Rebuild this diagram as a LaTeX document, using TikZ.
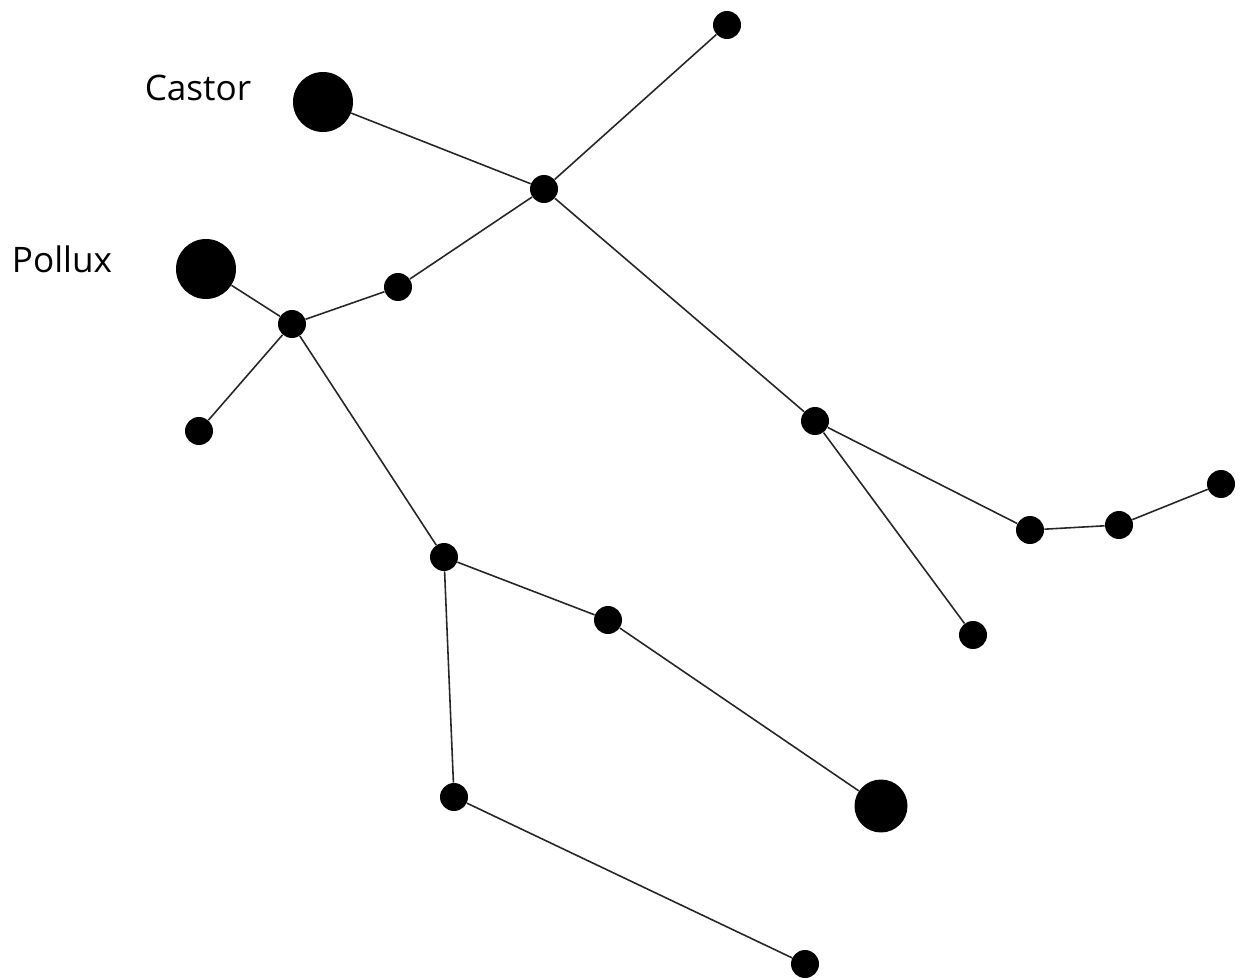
\documentclass[tikz,border=0pt]{standalone}
\usepackage{fontspec}
\setmainfont{Open Sans}
\usepackage{tikz}
\usetikzlibrary{positioning}
\tikzstyle{stardot}=[circle, fill=black, inner sep=0pt, minimum size=0.56cm]
\tikzstyle{brightstar}=[circle, fill=black, inner sep=0pt, minimum size=1.2cm]
\tikzstyle{link}=[line width=0.9pt, color=black!85]

\begin{document}
\begin{tikzpicture}[x=0.02cm, y=-0.02cm]
  \useasboundingbox (0,0) rectangle (1242,980);
  % bright stars
  \node[brightstar] (castor) at (323,102) {};
  \node[brightstar] (pollux) at (206,269) {};
  \node[brightstar, minimum size=1.06cm] (alhena) at (881,806) {};
  \node[font=\fontsize{20}{24}\selectfont] (castorlbl) at (198,88) {Castor};
  \node[font=\fontsize{20}{24}\selectfont] (polluxlbl) at (62,259) {Pollux};
  % fainter stars
  \node[stardot] (top) at (727,25) {};
  \node[stardot] (hub) at (544,189) {};
  \node[stardot] (arm) at (398,287) {};
  \node[stardot] (neck) at (292,324) {};
  \node[stardot] (hand) at (199,431) {};
  \node[stardot] (hip) at (444,557) {};
  \node[stardot] (knee) at (608,620) {};
  \node[stardot] (shin) at (454,797) {};
  \node[stardot] (foot) at (805,964) {};
  \node[stardot] (waist) at (815,421) {};
  \node[stardot] (leg) at (973,635) {};
  \node[stardot] (ankle) at (1030,530) {};
  \node[stardot] (heel) at (1119,525) {};
  \node[stardot] (toe) at (1221,484) {};
  % lines
  \draw[link] (castor) -- (hub) -- (top);
  \draw[link] (hub) -- (arm) -- (neck) -- (pollux);
  \draw[link] (neck) -- (hand);
  \draw[link] (neck) -- (hip) -- (knee) -- (alhena);
  \draw[link] (hip) -- (shin) -- (foot);
  \draw[link] (hub) -- (waist) -- (leg);
  \draw[link] (waist) -- (ankle) -- (heel) -- (toe);
\end{tikzpicture}
\end{document}
